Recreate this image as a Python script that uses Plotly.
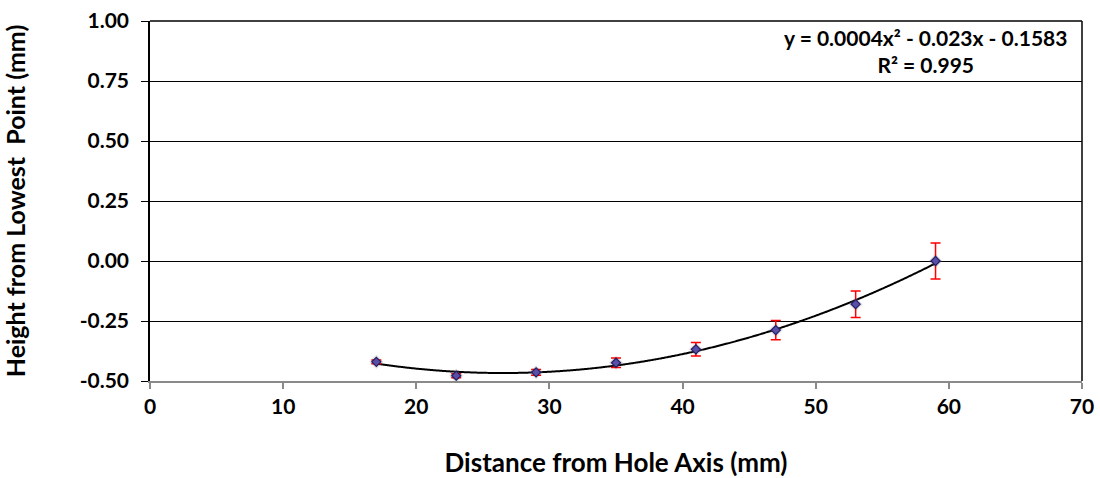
import numpy as np
import plotly.graph_objects as go

# Measured profile: distance from hole axis vs. height above the lowest point
distance_mm = [17, 23, 29, 35, 41, 47, 53, 59]
height_mm = [-0.420, -0.478, -0.464, -0.424, -0.368, -0.288, -0.180, 0.000]
height_err = [0.008, 0.008, 0.012, 0.020, 0.028, 0.040, 0.055, 0.075]

x_ticks = [0, 10, 20, 30, 40, 50, 60, 70]
y_ticks = [-0.50, -0.25, 0.00, 0.25, 0.50, 0.75, 1.00]

equation_text = "<b>y = 0.0004x² - 0.023x - 0.1583<br>R² = 0.995</b>"

# Second-order polynomial trendline fitted to the measurements
coef = np.polyfit(distance_mm, height_mm, 2)
xs = np.linspace(min(distance_mm), max(distance_mm), 300)
ys = np.polyval(coef, xs)

FONT = "Lato, 'Open Sans', Arial, sans-serif"

fig = go.Figure()

fig.add_trace(go.Scatter(
    x=xs, y=ys, mode="lines",
    line=dict(color="black", width=2, shape="spline"),
    hoverinfo="skip", showlegend=False,
))

# soft shadow under the markers
fig.add_trace(go.Scatter(
    x=distance_mm, y=height_mm, mode="markers",
    marker=dict(symbol="diamond", size=11, color="rgba(120,120,120,0.22)", line=dict(width=0)),
    hoverinfo="skip", showlegend=False,
))

fig.add_trace(go.Scatter(
    x=distance_mm, y=height_mm, mode="markers",
    error_y=dict(type="data", array=height_err, visible=True,
                 color="#ff0000", thickness=1.5, width=5),
    marker=dict(symbol="diamond", size=7, color="#5a4fa6",
                line=dict(color="#231d66", width=1.2)),
    showlegend=False,
))

fig.add_annotation(
    x=0.832, y=0.918, xref="paper", yref="paper",
    text=equation_text, showarrow=False, align="center",
    xanchor="center", yanchor="middle",
    font=dict(family=FONT, size=21, color="black"),
)

# top and right borders of the plotting area
fig.add_shape(type="line", xref="paper", yref="paper", x0=0, x1=1, y0=1, y1=1,
              line=dict(color="black", width=1.5))
fig.add_shape(type="line", xref="paper", yref="paper", x0=1, x1=1, y0=0, y1=1,
              line=dict(color="black", width=1.5))

fig.update_layout(
    width=1100, height=478,
    margin=dict(l=150, r=18, t=21, b=97),
    paper_bgcolor="white", plot_bgcolor="white",
    font=dict(family=FONT, size=16, color="black"),
    xaxis=dict(
        range=[0, 70], tickvals=x_ticks, ticktext=[f"<b>{v}</b>" for v in x_ticks],
        showgrid=False, zeroline=False, automargin=False,
        showline=True, linecolor="#8a8a8a", linewidth=2,
        ticks="outside", ticklen=6, tickcolor="#8a8a8a", tickwidth=1.5,
        tickfont=dict(family=FONT, size=21, color="black"),
        title=dict(text="<b>Distance from Hole Axis (mm)</b>",
                   font=dict(family=FONT, size=26, color="black"), standoff=38),
    ),
    yaxis=dict(
        range=[-0.5, 1.0], tickvals=y_ticks, ticktext=[f"<b>{v:.2f}</b>" for v in y_ticks],
        showgrid=True, gridcolor="black", gridwidth=1.2,
        zeroline=False, automargin=False,
        showline=True, linecolor="black", linewidth=1.5,
        ticks="outside", ticklen=7, tickcolor="black", tickwidth=1,
        ticklabelstandoff=8,
        tickfont=dict(family=FONT, size=21, color="black"),
        title=dict(text="<b>Height from Lowest  Point (mm)</b>",
                   font=dict(family=FONT, size=25, color="black"), standoff=48),
    ),
)

fig.write_html("out.html")
